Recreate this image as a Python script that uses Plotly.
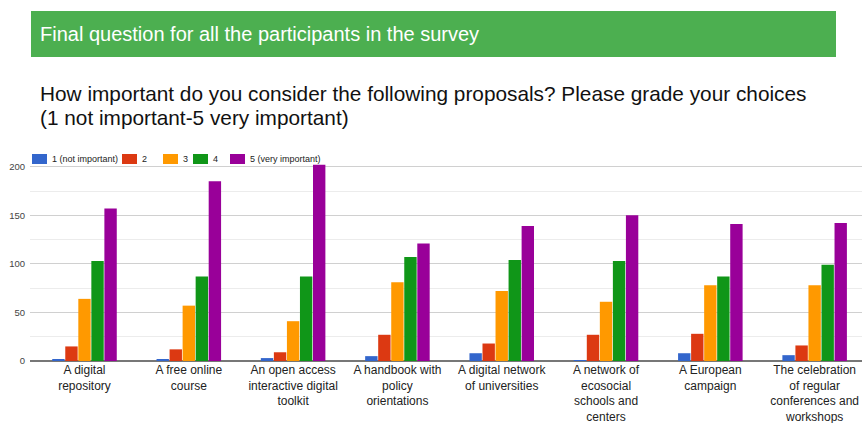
import plotly.graph_objects as go

categories = [
    "A digital<br>repository",
    "A free online<br>course",
    "An open access<br>interactive digital<br>toolkit",
    "A handbook with<br>policy<br>orientations",
    "A digital network<br>of universities",
    "A network of<br>ecosocial<br>schools and<br>centers",
    "A European<br>campaign",
    "The celebration<br>of regular<br>conferences and<br>workshops",
]
series_names = ["1 (not important)", "2", "3", "4", "5 (very important)"]
v1 = [2, 2, 3, 5, 8, 1, 8, 6]
v2 = [15, 12, 9, 27, 18, 27, 28, 16]
v3 = [64, 57, 41, 81, 72, 61, 78, 78]
v4 = [103, 87, 87, 107, 104, 103, 87, 99]
v5 = [157, 185, 202, 121, 139, 150, 141, 142]
values = [v1, v2, v3, v4, v5]
colors = ["#3366CC", "#DC3912", "#FF9900", "#109618", "#990099"]

W, H = 862, 423
L, R, T, B = 30, 0, 160, 62
PW, PH = W - L - R, H - T - B

def px(x):
    return (x - L) / PW

def py(y):
    return (H - B - y) / PH

FONT = "Liberation Sans, Arial, Helvetica, sans-serif"

fig = go.Figure()
for name, vals, c in zip(series_names, values, colors):
    fig.add_trace(go.Bar(x=categories, y=vals, name=name, marker=dict(color=c, line=dict(width=0))))

shapes = [dict(type="rect", xref="paper", yref="paper", x0=px(31), x1=px(836),
               y0=py(57), y1=py(11), fillcolor="#4CAF50", line=dict(width=0), layer="below")]
annotations = [
    dict(text="Final question for all the participants in the survey", xref="paper", yref="paper",
         x=px(38), y=py(34), xanchor="left", yanchor="middle", showarrow=False,
         font=dict(size=20, color="white", family=FONT)),
    dict(text="How important do you consider the following proposals? Please grade your choices",
         xref="paper", yref="paper", x=px(38), y=py(94), xanchor="left", yanchor="middle",
         showarrow=False, font=dict(size=20.8, color="#111", family=FONT)),
    dict(text="(1 not important-5 very important)",
         xref="paper", yref="paper", x=px(38), y=py(117), xanchor="left", yanchor="middle",
         showarrow=False, font=dict(size=20.8, color="#111", family=FONT)),
]

# custom compact legend (built from the series names/colours)
legend_x = [32, 122, 163, 193, 230]
for name, c, lx in zip(series_names, colors, legend_x):
    shapes.append(dict(type="rect", xref="paper", yref="paper", x0=px(lx), x1=px(lx + 15),
                       y0=py(164), y1=py(154), fillcolor=c, line=dict(width=0)))
    annotations.append(dict(text=name, xref="paper", yref="paper", x=px(lx + 18), y=py(159),
                            xanchor="left", yanchor="middle", showarrow=False,
                            font=dict(size=9, color="#222", family=FONT)))

fig.update_layout(
    width=W, height=H,
    margin=dict(l=L, r=R, t=T, b=B, autoexpand=False),
    paper_bgcolor="white", plot_bgcolor="white",
    barmode="group", bargap=0.375, bargroupgap=0.05,
    font=dict(family=FONT, color="#222"),
    showlegend=False,
    xaxis=dict(range=[-0.5225, 7.454], showgrid=False, showline=False, ticks="",
               tickfont=dict(size=12, color="#222"), automargin=False, tickangle=0),
    yaxis=dict(range=[0, 207], dtick=50, showgrid=True, gridcolor="#d0d0d0", gridwidth=1,
               zeroline=True, zerolinecolor="#777", zerolinewidth=1.5,
               tickfont=dict(size=9.5, color="#444"), ticks="", automargin=False,
               ticklabelstandoff=4,
               minor=dict(dtick=25, showgrid=True, gridcolor="#ececec", gridwidth=1)),
    shapes=shapes,
    annotations=annotations,
)
fig.write_html("out.html")
